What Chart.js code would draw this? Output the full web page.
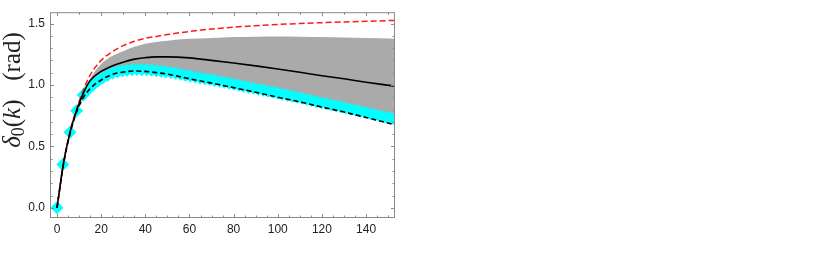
<!DOCTYPE html>
<html>
<head>
<meta charset="utf-8">
<script src="https://cdn.jsdelivr.net/npm/chart.js@4"></script>
<style>
  body { margin: 0; background: #fff; }
  #wrap { width: 814px; height: 260px; }
</style>
</head>
<body>
<div id="wrap"><canvas id="phase"></canvas></div>
<script>
// k grid shared by the three curves
const kGrid = [0, 3, 6, 9, 12, 15, 20, 25, 30, 35, 40, 45, 50, 60, 70, 80, 90, 100, 110, 120, 130, 140, 153];
const deltaSolid  = [0, 0.37, 0.62, 0.80, 0.935, 1.035, 1.11, 1.155, 1.185, 1.21, 1.222, 1.228, 1.228, 1.22, 1.20, 1.178, 1.155, 1.13, 1.103, 1.075, 1.05, 1.022, 0.99];
const deltaDashed = [0, 0.36, 0.61, 0.785, 0.90, 0.97, 1.04, 1.085, 1.105, 1.113, 1.11, 1.10, 1.088, 1.05, 1.015, 0.978, 0.94, 0.90, 0.862, 0.82, 0.78, 0.735, 0.675];
const deltaRed    = [0, 0.37, 0.63, 0.81, 0.96, 1.08, 1.2, 1.27, 1.32, 1.355, 1.38, 1.395, 1.41, 1.435, 1.455, 1.47, 1.482, 1.492, 1.50, 1.507, 1.513, 1.518, 1.525];

// gray uncertainty band
const bandK    = [9, 12, 15, 20, 25, 30, 35, 40, 45, 50, 60, 70, 80, 90, 100, 110, 120, 130, 140, 153];
const bandLow  = [0.785, 0.90, 0.97, 1.04, 1.085, 1.105, 1.113, 1.11, 1.10, 1.088, 1.05, 1.015, 0.978, 0.94, 0.90, 0.862, 0.82, 0.78, 0.735, 0.675];
const bandHigh = [0.80, 0.95, 1.05, 1.17, 1.235, 1.275, 1.31, 1.335, 1.35, 1.36, 1.375, 1.383, 1.39, 1.393, 1.395, 1.393, 1.39, 1.386, 1.382, 1.376];

// cyan diamonds
const pointsK = [0, 2.6, 5.9, 8.9, 11.9, 14.2, 16.4, 18.6, 20.8, 23, 25.2, 27.4, 29.6, 31.8, 34, 36.2, 38.4, 40.6, 42.8, 45,
  47.2, 49.4, 51.6, 53.8, 56, 58.2, 60.4, 62.6, 64.8, 67, 69.2, 71.4, 73.6, 75.8, 78, 80.2, 82.4, 84.6, 86.8, 89,
  91.2, 93.4, 95.6, 97.8, 100, 102.2, 104.4, 106.6, 108.8, 111, 113.2, 115.4, 117.6, 119.8, 122, 124.2, 126.4, 128.6,
  130.8, 133, 135.2, 137.4, 139.6, 141.8, 144, 146.2, 148.4, 150.6, 152.8];
const pointsDelta = [0, 0.353, 0.615, 0.79, 0.918, 0.965, 1.0, 1.032, 1.058, 1.079, 1.097, 1.107, 1.115, 1.12, 1.124, 1.125, 1.124, 1.123, 1.12, 1.116,
  1.112, 1.107, 1.101, 1.095, 1.087, 1.079, 1.072, 1.065, 1.057, 1.051, 1.044, 1.037, 1.03, 1.022, 1.014, 1.006, 0.998, 0.99, 0.982, 0.974,
  0.965, 0.957, 0.949, 0.94, 0.932, 0.924, 0.916, 0.908, 0.899, 0.891, 0.882, 0.873, 0.864, 0.855, 0.847, 0.838, 0.83, 0.821,
  0.812, 0.803, 0.794, 0.785, 0.776, 0.767, 0.758, 0.75, 0.742, 0.733, 0.724];

const xTicks = [0, 20, 40, 60, 80, 100, 120, 140];
const yTicks = [0, 0.5, 1.0, 1.5];

const xy = (xs, ys) => xs.map((x, i) => ({ x: x, y: ys[i] }));

// Mathematica-style frame with inward ticks on all four sides
const framePlugin = {
  id: 'frame',
  afterDatasetsDraw(chart) {
    const { ctx, chartArea: a, scales: { x, y } } = chart;
    ctx.save();
    ctx.strokeStyle = '#8a8a8a';
    ctx.lineWidth = 1;
    ctx.strokeRect(a.left + 0.5, a.top + 0.5, a.right - a.left - 1, a.bottom - a.top - 1);
    ctx.beginPath();
    for (let v = 0; v <= 150; v += 5) {
      const px = Math.round(x.getPixelForValue(v)) + 0.5;
      const len = v % 20 === 0 ? 4 : 2.5;
      ctx.moveTo(px, a.bottom); ctx.lineTo(px, a.bottom - len);
      if (v % 10 === 0) { ctx.moveTo(px, a.top); ctx.lineTo(px, a.top + len); }
    }
    for (let i = 0; i <= 15; i++) {
      const py = Math.round(y.getPixelForValue(i / 10)) + 0.5;
      const len = i % 5 === 0 ? 4 : 2.5;
      ctx.moveTo(a.left, py); ctx.lineTo(a.left + len, py);
      ctx.moveTo(a.right, py); ctx.lineTo(a.right - len, py);
    }
    ctx.stroke();
    ctx.restore();
  }
};

// rotated axis label with italic / subscript pieces
const yTitlePlugin = {
  id: 'yTitle',
  afterDraw(chart) {
    const { ctx } = chart;
    const size = 25;
    const serif = '"Liberation Serif", "DejaVu Serif", serif';
    const parts = [
      { t: 'δ', f: `italic ${size}px ${serif}`, dy: 0 },
      { t: '0', f: `${Math.round(size * 0.7)}px ${serif}`, dy: size * 0.25 },
      { t: '(', f: `${size}px ${serif}`, dy: 0 },
      { t: 'k', f: `italic ${size}px ${serif}`, dy: 0 },
      { t: ')', f: `${size}px ${serif}`, dy: 0 },
      { t: '   (rad)', f: `${size}px ${serif}`, dy: 0 }
    ];
    ctx.save();
    let total = 0;
    parts.forEach(p => { ctx.font = p.f; p.w = ctx.measureText(p.t).width; total += p.w; });
    ctx.translate(13, 90);
    ctx.rotate(-Math.PI / 2);
    ctx.fillStyle = '#222';
    ctx.textBaseline = 'middle';
    let cx = -total / 2;
    parts.forEach(p => { ctx.font = p.f; ctx.fillText(p.t, cx, p.dy); cx += p.w; });
    ctx.restore();
  }
};

const curve = (data, color, width, dash, order) => ({
  data: data, borderColor: color, borderWidth: width, borderDash: dash,
  pointRadius: 0, fill: false, cubicInterpolationMode: 'monotone', order: order
});

const config = {
  type: 'line',
  data: {
    datasets: [
      { data: xy(bandK, bandLow), borderWidth: 0, pointRadius: 0, fill: false, cubicInterpolationMode: 'monotone', order: 6 },
      { data: xy(bandK, bandHigh), borderWidth: 0, pointRadius: 0, fill: '-1', backgroundColor: '#aaaaaa',
        cubicInterpolationMode: 'monotone', order: 5 },
      { data: xy(pointsK, pointsDelta), showLine: false, pointStyle: 'rectRot', pointRadius: 6.5,
        pointBackgroundColor: '#00ffff', pointBorderWidth: 0, order: 4 },
      curve(xy(kGrid, deltaRed), '#ff1a1a', 1.5, [6, 3], 3),
      curve(xy(kGrid, deltaSolid), '#000000', 1.6, [], 2),
      curve(xy(kGrid, deltaDashed), '#000000', 1.6, [5, 3], 1)
    ]
  },
  options: {
    responsive: true,
    maintainAspectRatio: false,
    animation: false,
    events: [],
    layout: { padding: { top: 5, right: 419, left: 0, bottom: 0 } },
    plugins: { legend: { display: false }, tooltip: { enabled: false } },
    scales: {
      x: {
        type: 'linear', min: -3.17, max: 153.1,
        grid: { display: false, drawTicks: false },
        border: { display: false },
        afterBuildTicks: (s) => { s.ticks = xTicks.map(v => ({ value: v })); },
        afterFit: (s) => { s.height = 42; },
        ticks: { color: '#222', padding: 4, maxRotation: 0, font: { family: '"Liberation Sans", Arial, sans-serif', size: 12 } }
      },
      y: {
        min: -0.083, max: 1.592,
        grid: { display: false, drawTicks: false },
        border: { display: false },
        afterBuildTicks: (s) => { s.ticks = yTicks.map(v => ({ value: v })); },
        afterFit: (s) => { s.width = 50; },
        ticks: {
          color: '#222', padding: 5,
          font: { family: '"Liberation Sans", Arial, sans-serif', size: 12 },
          callback: (v) => v.toFixed(1)
        }
      }
    }
  },
  plugins: [framePlugin, yTitlePlugin]
};

let phaseChart = new Chart(document.getElementById('phase'), config);
</script>
</body>
</html>
